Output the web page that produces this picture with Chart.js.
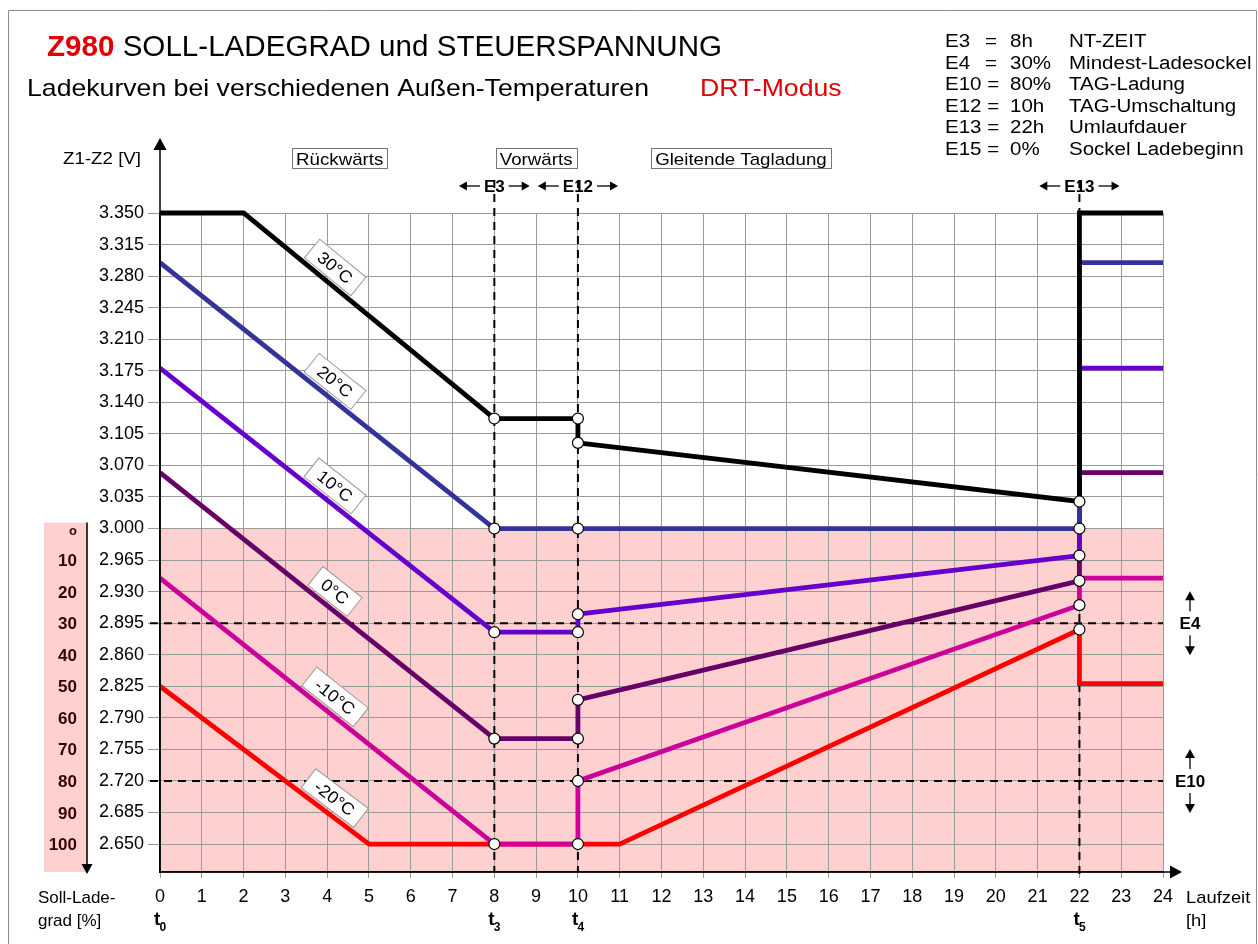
<!DOCTYPE html>
<html>
<head>
<meta charset="utf-8">
<script src="https://cdn.jsdelivr.net/npm/chart.js@4.4.1/dist/chart.umd.min.js"></script>
<style>
  html, body { margin: 0; padding: 0; background: #fff; }
  canvas { display: block; }
</style>
</head>
<body>
<canvas id="chart" width="1258" height="944"></canvas>
<script>
// Laufzeit [h] und Steuerspannung Z1-Z2 [V]
const hours = [0, 1, 2, 3, 4, 5, 6, 7, 8, 9, 10, 11, 12, 13, 14, 15, 16, 17, 18, 19, 20, 21, 22, 23, 24];
const voltTicks = [3.350, 3.315, 3.280, 3.245, 3.210, 3.175, 3.140, 3.105, 3.070, 3.035, 3.000,
  2.965, 2.930, 2.895, 2.860, 2.825, 2.790, 2.755, 2.720, 2.685, 2.650];
const ladegradTicks = ['o', '10', '20', '30', '40', '50', '60', '70', '80', '90', '100'];

// Ladekurven je Aussentemperatur (x = Stunden, y = Volt)
const temps = ['30°C', '20°C', '10°C', '0°C', '-10°C', '-20°C'];
const t30x = [0, 2, 8, 10, 10, 22, 22, 24];
const t30y = [3.350, 3.350, 3.122, 3.122, 3.095, 3.030, 3.350, 3.350];
const t20x = [0, 8, 10, 22, 22, 24];
const t20y = [3.295, 3.000, 3.000, 3.000, 3.295, 3.295];
const t10x = [0, 8, 10, 10, 22, 22, 24];
const t10y = [3.178, 2.885, 2.885, 2.905, 2.970, 3.178, 3.178];
const t0x = [0, 8, 10, 10, 22, 22, 24];
const t0y = [3.062, 2.767, 2.767, 2.810, 2.942, 3.062, 3.062];
const tm10x = [0, 8, 10, 10, 22, 22, 24];
const tm10y = [2.945, 2.650, 2.650, 2.720, 2.915, 2.945, 2.945];
const tm20x = [0, 5, 11, 22, 22, 24];
const tm20y = [2.825, 2.650, 2.650, 2.888, 2.828, 2.828];

// Parameter
const e3 = 8, e12 = 10, e13 = 22;
const e4Volt = 2.895, e10Volt = 2.720;
const paramRows = [
  ['E3', '=', '8h', 'NT-ZEIT'],
  ['E4', '=', '30%', 'Mindest-Ladesockel'],
  ['E10 =', '', '80%', 'TAG-Ladung'],
  ['E12 =', '', '10h', 'TAG-Umschaltung'],
  ['E13 =', '', '22h', 'Umlaufdauer'],
  ['E15 =', '', '0%', 'Sockel Ladebeginn']
];

const FONT = 'Arial, "Liberation Sans", sans-serif';
Chart.defaults.font.family = FONT;

const colors = ['#000000', '#333399', '#6600cc', '#660066', '#cc0099', '#ff0000'];
const xs = [t30x, t20x, t10x, t0x, tm10x, tm20x];
const ys = [t30y, t20y, t10y, t0y, tm10y, tm20y];

function pts(x, y) { return x.map((v, i) => ({ x: v, y: y[i] })); }

// Kreis an den Umschaltpunkten (vor einem Sprung bzw. bei t3/t4)
function markerRadius(ctx) {
  const d = ctx.dataset.data, i = ctx.dataIndex, p = d[i];
  if (p.x === e3 || p.x === e12) return 5.5;
  if (p.x === e13 && (i === 0 || d[i - 1].x !== e13)) return 5.5;
  return 0;
}

const datasets = temps.map((t, k) => ({
  label: t,
  data: pts(xs[k], ys[k]),
  borderColor: colors[k],
  borderWidth: 4.8,
  borderJoinStyle: 'miter',
  tension: 0,
  fill: false,
  clip: false,
  pointRadius: markerRadius,
  pointHoverRadius: markerRadius,
  pointBackgroundColor: '#ffffff',
  pointBorderColor: '#000000',
  pointBorderWidth: 1.2
}));

// Text mit leichter horizontaler Streckung wie im Original
function txt(ctx, s, x, y, font, align, sx) {
  ctx.save();
  ctx.font = font;
  const w = ctx.measureText(s).width * sx;
  const x0 = align === 'center' ? x - w / 2 : align === 'right' ? x - w : x;
  ctx.translate(x0, y);
  ctx.scale(sx, 1);
  ctx.textAlign = 'left';
  ctx.fillText(s, 0, 0);
  ctx.restore();
  return w;
}

function arrowHead(ctx, x, y, dir, size) {
  ctx.beginPath();
  if (dir === 'r') { ctx.moveTo(x, y); ctx.lineTo(x - size, y - size * 0.55); ctx.lineTo(x - size, y + size * 0.55); }
  if (dir === 'l') { ctx.moveTo(x, y); ctx.lineTo(x + size, y - size * 0.55); ctx.lineTo(x + size, y + size * 0.55); }
  if (dir === 'u') { ctx.moveTo(x, y); ctx.lineTo(x - size * 0.55, y + size); ctx.lineTo(x + size * 0.55, y + size); }
  if (dir === 'd') { ctx.moveTo(x, y); ctx.lineTo(x - size * 0.55, y - size); ctx.lineTo(x + size * 0.55, y - size); }
  ctx.closePath();
  ctx.fill();
}

function line(ctx, x1, y1, x2, y2) {
  ctx.beginPath(); ctx.moveTo(x1, y1); ctx.lineTo(x2, y2); ctx.stroke();
}

const backdrop = {
  id: 'backdrop',
  beforeDraw(chart) {
    const { ctx, chartArea: a, scales: { y } } = chart;
    ctx.save();
    ctx.fillStyle = '#ffd0d0';
    const top = y.getPixelForValue(3.000);
    ctx.fillRect(a.left, top, a.right - a.left, a.bottom - top);
    // Soll-Ladegrad Spalte
    ctx.fillRect(44, top - 6, 44, a.bottom - top + 6);
    ctx.restore();
  },
  beforeDatasetsDraw(chart) {
    const { ctx, chartArea: a, scales: { x, y } } = chart;
    ctx.save();
    ctx.strokeStyle = '#000';
    ctx.lineWidth = 2;
    ctx.setLineDash([8, 6]);
    [e3, e12].forEach(h => line(ctx, x.getPixelForValue(h), 180, x.getPixelForValue(h), a.bottom));
    line(ctx, x.getPixelForValue(e13), 180, x.getPixelForValue(e13), a.bottom + 8);
    [e4Volt, e10Volt].forEach(v => line(ctx, a.left - 10, y.getPixelForValue(v), a.right, y.getPixelForValue(v)));
    ctx.restore();
  },
  afterDraw(chart) {
    const { ctx, chartArea: a, scales: { x, y } } = chart;
    ctx.save();
    ctx.textBaseline = 'alphabetic';

    // Rahmen
    ctx.strokeStyle = '#8c8c8c';
    ctx.lineWidth = 1;
    ctx.beginPath();
    ctx.moveTo(8.5, 944); ctx.lineTo(8.5, 10.5); ctx.lineTo(1256.5, 10.5); ctx.lineTo(1256.5, 944);
    ctx.stroke();

    // Titel
    ctx.fillStyle = '#e00000';
    const w = txt(ctx, 'Z980 ', 47, 56, 'bold 29px ' + FONT, 'left', 1.02);
    ctx.fillStyle = '#000';
    txt(ctx, 'SOLL-LADEGRAD und STEUERSPANNUNG', 47 + w, 56, '29px ' + FONT, 'left', 1.02);

    txt(ctx, 'Ladekurven bei verschiedenen Außen-Temperaturen', 27, 96, '24px ' + FONT, 'left', 1.11);
    ctx.fillStyle = '#e00000';
    txt(ctx, 'DRT-Modus', 700, 96, '24px ' + FONT, 'left', 1.11);

    // Parameterliste
    ctx.fillStyle = '#000';
    const pf = '18px ' + FONT;
    paramRows.forEach((r, i) => {
      const yy = 47 + i * 21.6;
      txt(ctx, r[0], 945, yy, pf, 'left', 1.14);
      if (r[1]) txt(ctx, r[1], 985, yy, pf, 'left', 1.14);
      txt(ctx, r[2], 1010, yy, pf, 'left', 1.14);
      txt(ctx, r[3], 1069, yy, pf, 'left', 1.14);
    });

    // Achsen mit Pfeilen
    ctx.strokeStyle = '#000';
    ctx.fillStyle = '#000';
    ctx.lineWidth = 1.5;
    line(ctx, a.left, a.bottom, a.left, 148);
    arrowHead(ctx, a.left, 138, 'u', 12);
    line(ctx, a.left, a.bottom, 1172, a.bottom);
    arrowHead(ctx, 1182, a.bottom, 'r', 12);
    line(ctx, 87, y.getPixelForValue(3.000) - 6, 87, a.bottom - 6);
    arrowHead(ctx, 87, a.bottom + 2, 'd', 10);

    // Achsentitel
    const af = '17px ' + FONT;
    txt(ctx, 'Z1-Z2 [V]', 141, 164, af, 'right', 1.1);
    txt(ctx, 'Soll-Lade-', 38, 903, af, 'left', 1.0);
    txt(ctx, 'grad [%]', 38, 926, af, 'left', 1.0);
    txt(ctx, 'Laufzeit', 1186, 903, af, 'left', 1.08);
    txt(ctx, '[h]', 1186, 926, af, 'left', 1.08);

    // Soll-Ladegrad Skala
    ctx.fillStyle = '#3a0000';
    ladegradTicks.forEach((s, i) => {
      const yy = y.getPixelForValue(3.000 - i * 0.035);
      txt(ctx, s, 77, yy + 6, (i === 0 ? 'bold 13px ' : 'bold 17px ') + FONT, 'right', 1.0);
    });

    // t-Bezeichnungen
    ctx.fillStyle = '#000';
    [[0, '0'], [e3, '3'], [e12, '4'], [e13, '5']].forEach(([h, s]) => {
      const px = x.getPixelForValue(h);
      ctx.textAlign = 'left';
      ctx.font = 'bold 19px ' + FONT;
      ctx.fillText('t', px - 6, 925);
      ctx.font = 'bold 12px ' + FONT;
      ctx.fillText(s, px - 0.5, 931);
    });

    // Bereiche
    [['Rückwärts', 4.3], ['Vorwärts', 9.0], ['Gleitende Tagladung', 13.9]].forEach(([s, h]) => {
      const cx = x.getPixelForValue(h);
      ctx.font = '17px ' + FONT;
      const tw = ctx.measureText(s).width * 1.1 + 8;
      ctx.fillStyle = '#fff';
      ctx.fillRect(cx - tw / 2, 148, tw, 21);
      ctx.strokeStyle = '#777';
      ctx.lineWidth = 1;
      ctx.strokeRect(Math.round(cx - tw / 2) + 0.5, 148.5, Math.round(tw), 20);
      ctx.fillStyle = '#000';
      txt(ctx, s, cx, 165, '17px ' + FONT, 'center', 1.1);
    });

    // E3 / E12 / E13 Pfeile
    ctx.strokeStyle = '#000';
    ctx.fillStyle = '#000';
    ctx.lineWidth = 1.3;
    [['E3', e3], ['E12', e12], ['E13', e13]].forEach(([s, h]) => {
      const cx = x.getPixelForValue(h);
      const half = txt(ctx, s, cx, 192, 'bold 17px ' + FONT, 'center', 1.0) / 2;
      line(ctx, cx - half - 4, 186, cx - half - 18, 186);
      arrowHead(ctx, cx - half - 25, 186, 'l', 8);
      line(ctx, cx + half + 4, 186, cx + half + 18, 186);
      arrowHead(ctx, cx + half + 25, 186, 'r', 8);
    });

    // E4 / E10 rechts
    [['E4', e4Volt], ['E10', e10Volt]].forEach(([s, v]) => {
      const cy = y.getPixelForValue(v);
      const cx = 1190;
      txt(ctx, s, cx, cy + 6, 'bold 17px ' + FONT, 'center', 1.0);
      line(ctx, cx, cy - 12, cx, cy - 24);
      arrowHead(ctx, cx, cy - 32, 'u', 9);
      line(ctx, cx, cy + 12, cx, cy + 24);
      arrowHead(ctx, cx, cy + 32, 'd', 9);
    });

    // Temperatur-Beschriftungen an den Kurven
    const labelHour = 3.95;
    chart.data.datasets.forEach(ds => {
      const d = ds.data;
      for (let i = 1; i < d.length; i++) {
        if (d[i - 1].x <= labelHour && labelHour <= d[i].x && d[i].x !== d[i - 1].x) {
          const f = (labelHour - d[i - 1].x) / (d[i].x - d[i - 1].x);
          const vy = d[i - 1].y + f * (d[i].y - d[i - 1].y);
          const p0x = x.getPixelForValue(d[i - 1].x), p0y = y.getPixelForValue(d[i - 1].y);
          const p1x = x.getPixelForValue(d[i].x), p1y = y.getPixelForValue(d[i].y);
          const ang = Math.atan2(p1y - p0y, p1x - p0x);
          ctx.save();
          ctx.translate(x.getPixelForValue(labelHour), y.getPixelForValue(vy));
          ctx.rotate(ang);
          ctx.translate(0, -16);
          ctx.font = '17px ' + FONT;
          const tw = ctx.measureText(ds.label).width * 1.05 + 20;
          ctx.fillStyle = '#fff';
          ctx.fillRect(-tw / 2, -12, tw, 24);
          ctx.strokeStyle = '#999';
          ctx.lineWidth = 1;
          ctx.strokeRect(-tw / 2, -12, tw, 24);
          ctx.fillStyle = '#000';
          txt(ctx, ds.label, 0, 6, '17px ' + FONT, 'center', 1.05);
          ctx.restore();
          break;
        }
      }
    });
    ctx.restore();
  }
};

new Chart(document.getElementById('chart'), {
  type: 'line',
  data: { datasets },
  options: {
    responsive: false,
    devicePixelRatio: 1,
    animation: false,
    events: [],
    layout: { padding: { top: 213, right: 95, left: 0, bottom: 0 } },
    plugins: { legend: { display: false }, tooltip: { enabled: false } },
    scales: {
      x: {
        type: 'linear',
        min: 0,
        max: 24,
        afterBuildTicks: s => { s.ticks = hours.map(v => ({ value: v })); },
        afterFit: s => { s.height = 72; },
        ticks: { color: '#000', font: { size: 18 }, padding: 8, maxRotation: 0, autoSkip: false },
        grid: { color: '#9a9a9a', lineWidth: 1, tickLength: 6, tickColor: '#9a9a9a' },
        border: { color: '#000', width: 1.5 }
      },
      y: {
        type: 'linear',
        min: 2.619,
        max: 3.350,
        afterBuildTicks: s => { s.ticks = voltTicks.map(v => ({ value: v })); },
        afterFit: s => { s.width = 160; },
        ticks: { color: '#000', font: { size: 18 }, padding: 4, callback: v => v.toFixed(3) },
        grid: { color: '#9a9a9a', lineWidth: 1, tickLength: 12, tickColor: '#9a9a9a' },
        border: { color: '#000', width: 1.5 }
      }
    }
  },
  plugins: [backdrop]
});
</script>
</body>
</html>
